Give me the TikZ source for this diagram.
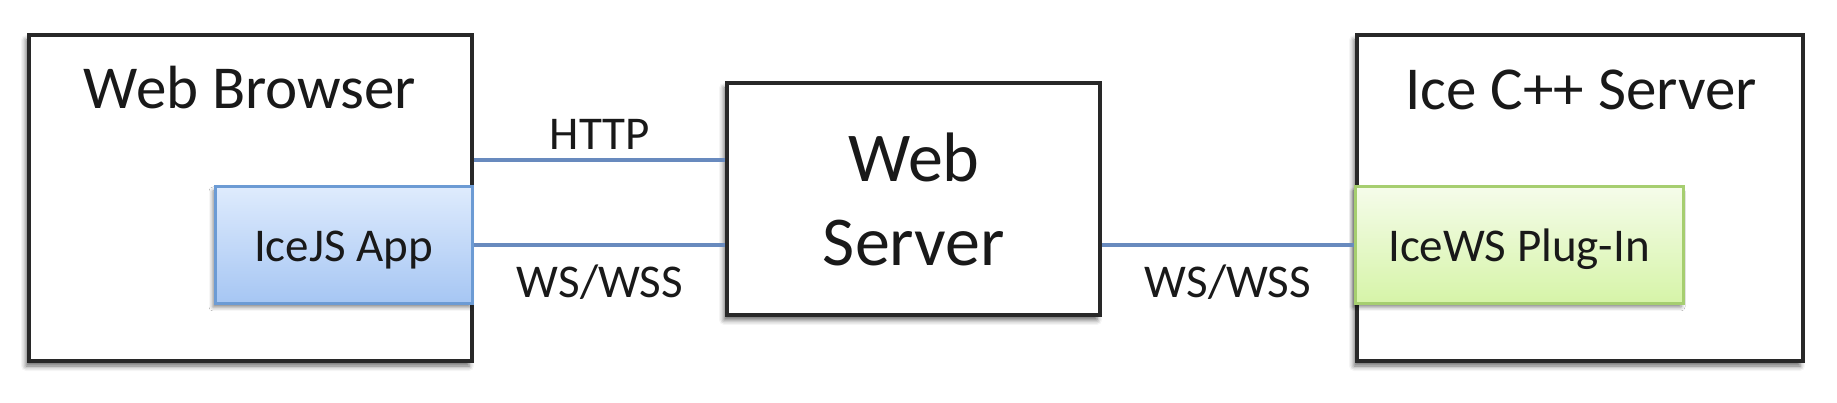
\documentclass[tikz,border=0pt]{standalone}
\usepackage{fontspec}
\setmainfont{Carlito}
\usetikzlibrary{shadows.blur}
\definecolor{boxline}{RGB}{40,40,40}
\definecolor{connblue}{RGB}{104,138,190}
\definecolor{jstop}{RGB}{222,235,253}
\definecolor{jsbot}{RGB}{166,198,243}
\definecolor{jsline}{RGB}{108,155,212}
\definecolor{wstop}{RGB}{245,252,234}
\definecolor{wsbot}{RGB}{214,244,168}
\definecolor{wsline}{RGB}{166,206,112}
\tikzset{
  outerbox/.style={draw=boxline, line width=3.5pt, fill=white, inner sep=0pt,
    blur shadow={shadow xshift=-3pt, shadow yshift=-5pt, shadow blur radius=5pt, shadow opacity=60}},
  jsbox/.style={draw=jsline, line width=3pt, top color=jstop, bottom color=jsbot, inner sep=0pt,
    blur shadow={shadow xshift=-2pt, shadow yshift=-4pt, shadow blur radius=4pt, shadow opacity=50}},
  wsbox/.style={draw=wsline, line width=3pt, top color=wstop, bottom color=wsbot, inner sep=0pt,
    blur shadow={shadow xshift=-2pt, shadow yshift=-4pt, shadow blur radius=4pt, shadow opacity=50}},
  conn/.style={draw=connblue, line width=3.3pt},
  title/.style={font=\fontsize{61}{72}\selectfont, anchor=base, inner sep=0pt, text=black!90},
  bigtitle/.style={font=\fontsize{70}{85}\selectfont, anchor=base, inner sep=0pt, text=black!90},
  lbl/.style={font=\fontsize{47}{56}\selectfont, anchor=base, inner sep=0pt, text=black!90},
}
\begin{document}
\begin{tikzpicture}[x=1pt,y=1pt]
\useasboundingbox (0,0) rectangle (1837,402);
% outer boxes
\node[outerbox, minimum width=443pt, minimum height=326pt] (browser) at (250.5,204) {};
\node[outerbox, minimum width=373pt, minimum height=232pt] (webserver) at (913.5,203) {};
\node[outerbox, minimum width=446pt, minimum height=326pt] (iceserver) at (1580,204) {};
% inner boxes
\node[jsbox, minimum width=257pt, minimum height=116pt] (icejs) at (343.5,157) {};
\node[wsbox, minimum width=328pt, minimum height=116pt] (icews) at (1519,157) {};
% texts
\node[title] (tbrowser) at (250,293) {Web Browser};
\node[title] (tice) at (1581,292) {Ice C++ Server};
\node[bigtitle] (tweb1) at (914,220) {Web};
\node[bigtitle] (tweb2) at (914,136) {Server};
\node[lbl] (tjs) at (343.5,140) {IceJS App};
\node[lbl] (tws) at (1519,140) {IceWS Plug-In};
% connectors
\coordinate (httpy) at (600,242);
\draw[conn] (browser.east |- httpy) -- (webserver.west |- httpy);
\draw[conn] (icejs.east) -- (webserver.west |- icejs.east);
\draw[conn] (webserver.east |- icews.west) -- (icews.west);
% connector labels
\node[lbl] (lhttp) at (600,252) {HTTP};
\node[lbl] (lws1) at (600,104) {WS/WSS};
\node[lbl] (lws2) at (1228,104) {WS/WSS};
\end{tikzpicture}
\end{document}
